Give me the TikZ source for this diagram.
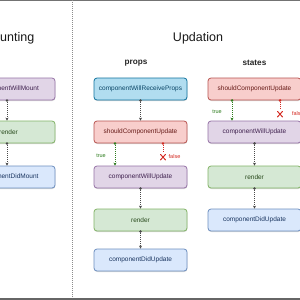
\documentclass[tikz,border=0pt]{standalone}
\usepackage{fontspec}
\setmainfont{Liberation Sans}
\usetikzlibrary{arrows.meta,shadows}
\definecolor{pfill}{HTML}{E1D5E7}\definecolor{pline}{HTML}{9673A6}\definecolor{ptext}{HTML}{40224F}
\definecolor{gfill}{HTML}{D5E8D4}\definecolor{gline}{HTML}{82B366}\definecolor{gtext}{HTML}{26481A}
\definecolor{bfill}{HTML}{DAE8FC}\definecolor{bline}{HTML}{6C8EBF}\definecolor{btext}{HTML}{1A3560}
\definecolor{cfill}{HTML}{B1DDF0}\definecolor{cline}{HTML}{10739E}\definecolor{ctext}{HTML}{0A4566}
\definecolor{rfill}{HTML}{F8CECC}\definecolor{rline}{HTML}{B85450}\definecolor{rtext}{HTML}{661A17}
\definecolor{truec}{HTML}{2E7D1E}\definecolor{falsec}{HTML}{D42A22}
\definecolor{connc}{HTML}{4A4A4A}
\begin{document}
\begin{tikzpicture}[x=1pt,y=-1pt,
  box/.style={rounded corners=3pt, line width=0.8pt, minimum width=93pt, minimum height=22pt,
    inner sep=0pt, font=\fontsize{6.5}{7}\selectfont,
    drop shadow={shadow xshift=0.3pt,shadow yshift=-1pt,opacity=0.3}},
  pbox/.style={box, fill=pfill, draw=pline, text=ptext},
  gbox/.style={box, fill=gfill, draw=gline, text=gtext},
  bbox/.style={box, fill=bfill, draw=bline, text=btext},
  cbox/.style={box, fill=cfill, draw=cline, text=ctext},
  rbox/.style={box, fill=rfill, draw=rline, text=rtext},
  title/.style={font=\fontsize{12.5}{14}\selectfont, text=black!90},
  sub/.style={font=\bfseries\fontsize{8.2}{10}\selectfont, text=black!85},
  conn/.style={draw=connc, line width=0.6pt, dash pattern=on 1pt off 1pt, -{Stealth[length=3pt,width=3pt]}},
  dotn/.style={circle, fill=#1, inner sep=0pt, minimum size=2.8pt},
  lab/.style={font=\fontsize{5.5}{6}\selectfont},
  xmark/.style={draw=falsec, line width=1pt, line cap=round}
]
\useasboundingbox (0,0) rectangle (300,300);
\fill[white] (0,0) rectangle (300,300);
\fill[black!55] (0,0) rectangle (300,0.9);
\fill[black!60] (0,298.2) rectangle (300,300);
\coordinate (dtop) at (72,0);
\coordinate (dbot) at (72,298);
\draw[black!45, line width=0.5pt, dash pattern=on 1pt off 1pt] (dtop) -- (dbot);

% titles
\node[title] (tm) at (8.5,38) {Mounting};
\node[title] (tu) at (198,38) {Updation};
\node[sub] (tp) at (136,63) {props};
\node[sub] (ts) at (254.5,63) {states};

% Mounting
\node[pbox] (m1) at (8.5,89) {componentWillMount};
\node[gbox] (m2) at (8.5,132) {render};
\node[bbox] (m3) at (8.5,177) {componentDidMount};
\draw[conn] ([xshift=-1.5pt]m1.south) node[dotn=connc]{} -- ([xshift=-1.5pt]m2.north);
\draw[conn] ([xshift=-1.5pt]m2.south) node[dotn=connc]{} -- ([xshift=-1.5pt]m3.north);

% props
\node[cbox] (p1) at (140.5,89) {componentWillReceiveProps};
\node[rbox] (p2) at (140.5,132) {shouldComponentUpdate};
\node[pbox] (p3) at (140.5,177) {componentWillUpdate};
\node[gbox] (p4) at (140.5,220) {render};
\node[bbox] (p5) at (140.5,260) {componentDidUpdate};
\draw[conn] (p1.south) node[dotn=connc]{} -- (p2.north);
\draw[conn, draw=truec] ([xshift=-25.5pt]p2.south) node[dotn=truec]{} -- ([xshift=-25.5pt]p3.north);
\node[lab, text=truec] (pt) at (101,155.5) {true};
\coordinate (pxf) at ([xshift=22.5pt, yshift=-10pt]p2.south);
\draw[draw=falsec, line width=0.6pt, dash pattern=on 1pt off 1pt] ([xshift=22.5pt]p2.south) node[dotn=falsec]{} -- (pxf);
\draw[xmark] ([shift={(-2.5pt,-1pt)}]pxf) -- ([shift={(2.5pt,-6.5pt)}]pxf)
             ([shift={(2.5pt,-1pt)}]pxf) -- ([shift={(-2.5pt,-6.5pt)}]pxf);
\node[lab, text=falsec] (pf) at (174.5,157) {false};
\draw[conn] (p3.south) node[dotn=connc]{} -- (p4.north);
\draw[conn] (p4.south) node[dotn=connc]{} -- (p5.north);

% states
\node[rbox] (s1) at (254.5,89) {shouldComponentUpdate};
\node[pbox] (s2) at (254.5,132) {componentWillUpdate};
\node[gbox] (s3) at (254.5,177) {render};
\node[bbox] (s4) at (254.5,220) {componentDidUpdate};
\draw[conn, draw=truec] ([xshift=-22.5pt]s1.south) node[dotn=truec]{} -- ([xshift=-22.5pt]s2.north);
\node[lab, text=truec] (st) at (217,111.5) {true};
\coordinate (sxf) at ([xshift=25.5pt, yshift=-10pt]s1.south);
\draw[draw=falsec, line width=0.6pt, dash pattern=on 1pt off 1pt] ([xshift=25.5pt]s1.south) node[dotn=falsec]{} -- (sxf);
\draw[xmark] ([shift={(-2.5pt,-1pt)}]sxf) -- ([shift={(2.5pt,-6.5pt)}]sxf)
             ([shift={(2.5pt,-1pt)}]sxf) -- ([shift={(-2.5pt,-6.5pt)}]sxf);
\node[lab, text=falsec, anchor=west] (sf) at (288.5,114) {false};
\draw[conn] (s2.south) node[dotn=connc]{} -- (s3.north);
\draw[conn] (s3.south) node[dotn=connc]{} -- (s4.north);
\end{tikzpicture}
\end{document}
